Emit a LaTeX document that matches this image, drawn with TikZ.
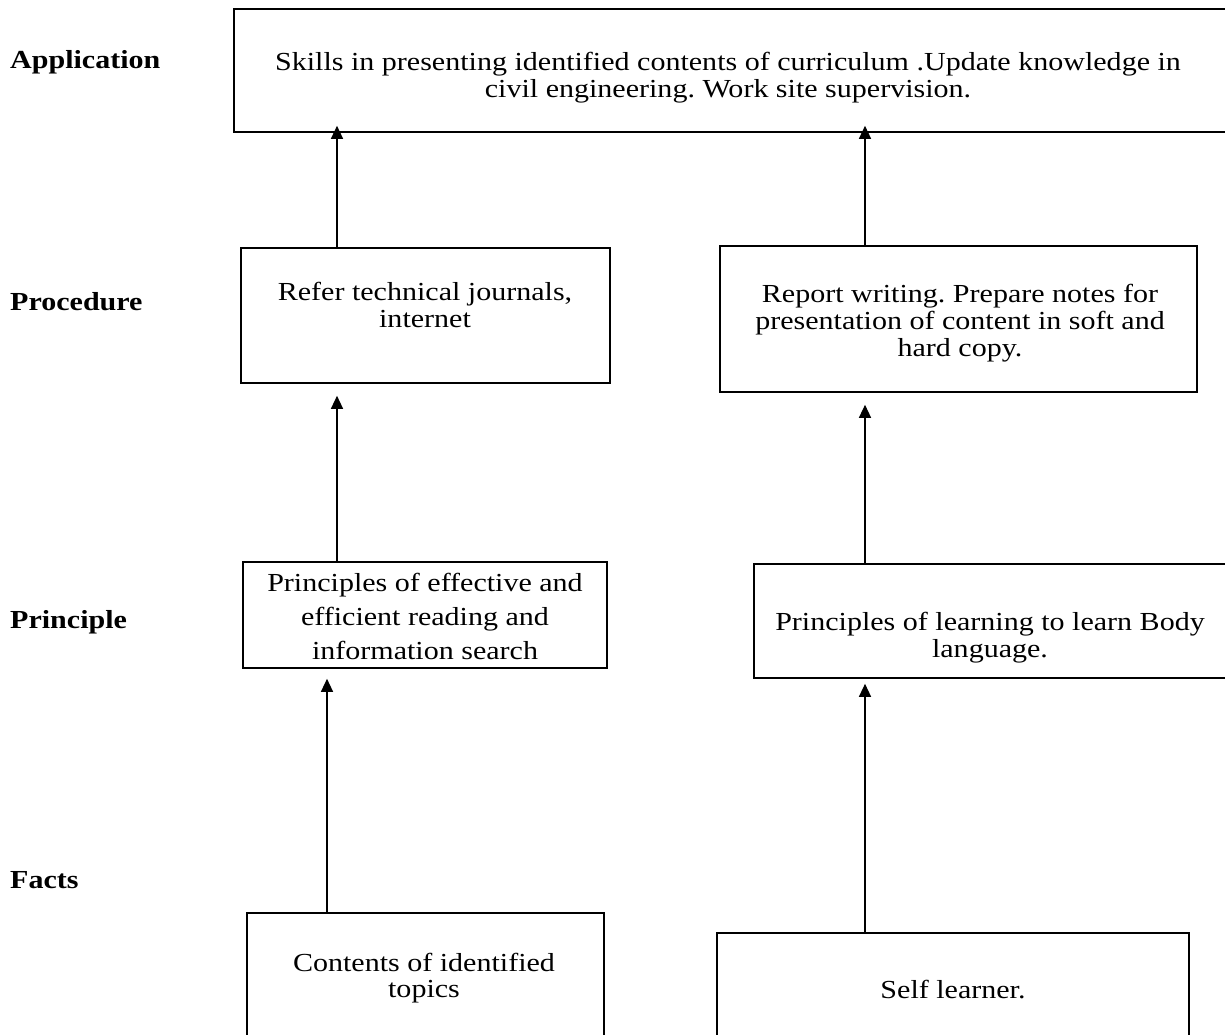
\documentclass[tikz,border=0pt]{standalone}
\usepackage{fontspec}
\setmainfont{Liberation Serif}[FakeStretch=1.155]
\usetikzlibrary{arrows.meta}
\frenchspacing
\begin{document}
\begin{tikzpicture}[x=1pt,y=-1pt,
  box/.style={draw, line width=1.6pt, inner sep=0pt},
  txt/.style={anchor=base, align=center, inner sep=0pt, font=\fontsize{26}{26.7}\selectfont},
  lvl/.style={anchor=base west, inner sep=0pt, font=\fontsize{26}{30}\selectfont\bfseries},
  arr/.style={line width=1.3pt, -{Triangle[width=12pt,length=13pt]}}]
\useasboundingbox (0,0) rectangle (1225,1034);
\clip (0,0) rectangle (1225,1034);
\fill[white] (0,0) rectangle (1225,1034);
% level labels
\node[lvl] (lapp) at (10,68) {Application};
\node[lvl] (lproc) at (10,310) {Procedure};
\node[lvl] (lprin) at (10,628) {Principle};
\node[lvl] (lfact) at (10,888) {Facts};
% boxes
\node[box, minimum width=1002pt, minimum height=123pt] (app) at (735,70.5) {};
\node[box, minimum width=369pt, minimum height=135pt] (procL) at (425.5,315.5) {};
\node[box, minimum width=477pt, minimum height=146pt] (procR) at (958.5,319) {};
\node[box, minimum width=364pt, minimum height=106pt] (prinL) at (425,615) {};
\node[box, minimum width=482pt, minimum height=114pt] (prinR) at (995,621) {};
\node[box, minimum width=357pt, minimum height=147pt] (factsL) at (425.5,986.5) {};
\node[box, minimum width=472pt, minimum height=127pt] (factsR) at (953,996.5) {};
% texts (anchor at baseline of last line)
\node[txt] (appT) at (728,97) {Skills in presenting identified contents of curriculum .Update knowledge in\\civil engineering. Work site supervision.};
\node[txt] (procLT) at (425,327) {Refer technical journals,\\internet};
\node[txt] (procRT) at (960,356) {Report writing. Prepare notes for\\presentation of content in soft and\\hard copy.};
\node[txt, font=\fontsize{26}{34}\selectfont] (prinLT) at (425,659) {Principles of effective and\\efficient reading and\\information search};
\node[txt] (prinRT) at (990,657) {Principles of learning to learn Body\\language.};
\node[txt, font=\fontsize{26}{25.5}\selectfont] (factsLT) at (424,997) {Contents of identified\\topics};
\node[txt] (factsRT) at (953,998) {Self learner.};
% connector columns
\coordinate (cx1) at (337,0);
\coordinate (cx2) at (865,0);
\coordinate (cx3) at (327,0);
% arrows
\draw[arr, shorten >=-7pt] (procL.north -| cx1) -- (app.south -| cx1);
\draw[arr, shorten >=-7pt] (procR.north -| cx2) -- (app.south -| cx2);
\draw[arr, shorten >=12pt] (prinL.north -| cx1) -- (procL.south -| cx1);
\draw[arr, shorten >=12pt] (prinR.north -| cx2) -- (procR.south -| cx2);
\draw[arr, shorten >=10pt] (factsL.north -| cx3) -- (prinL.south -| cx3);
\draw[arr, shorten >=5pt] (factsR.north -| cx2) -- (prinR.south -| cx2);
\end{tikzpicture}
\end{document}
